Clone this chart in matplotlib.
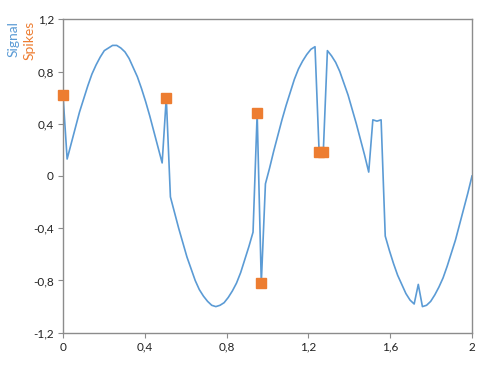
import numpy as np
import matplotlib
matplotlib.use("Agg")
import matplotlib.pyplot as plt

plt.rcParams["font.family"] = ["Lato", "DejaVu Sans"]

# signal: 100 samples evenly spaced over 0..2
x_start, x_end, n_samples = 0.0, 2.0, 100
signal = [
    0.62, 0.13, 0.25, 0.37, 0.49, 0.59, 0.69, 0.78, 0.85, 0.91,
    0.96, 0.98, 1.00, 1.00, 0.98, 0.95, 0.90, 0.83, 0.76, 0.67,
    0.57, 0.46, 0.34, 0.22, 0.10, 0.60, -0.16, -0.28, -0.40, -0.51,
    -0.62, -0.71, -0.80, -0.87, -0.92, -0.96, -0.99, -1.00, -0.99, -0.97,
    -0.93, -0.88, -0.82, -0.74, -0.64, -0.54, -0.43, 0.48, -0.82, -0.06,
    0.06, 0.19, 0.31, 0.43, 0.54, 0.64, 0.74, 0.82, 0.88, 0.93,
    0.97, 0.99, 0.18, 0.18, 0.96, 0.92, 0.87, 0.80, 0.71, 0.62,
    0.51, 0.40, 0.28, 0.16, 0.03, 0.43, 0.42, 0.43, -0.46, -0.57,
    -0.67, -0.76, -0.83, -0.90, -0.95, -0.98, -0.83, -1.00, -0.99, -0.96,
    -0.91, -0.85, -0.78, -0.69, -0.59, -0.49, -0.37, -0.25, -0.13, 0.00,
]

spike_x = [0.0, 0.505, 0.949, 0.970, 1.253, 1.273]
spike_y = [0.62, 0.60, 0.48, -0.82, 0.18, 0.18]

x_ticks = [0, 0.4, 0.8, 1.2, 1.6, 2]
x_labels = ["0", "0,4", "0,8", "1,2", "1,6", "2"]
y_ticks = [-1.2, -0.8, -0.4, 0, 0.4, 0.8, 1.2]
y_labels = ["-1,2", "-0,8", "-0,4", "0", "0,4", "0,8", "1,2"]

blue = "#5B9BD5"
orange = "#ED7D31"
grey = "#8C8C8C"

x = np.linspace(x_start, x_end, n_samples)

fig = plt.figure(figsize=(4.91, 3.78), dpi=100)
ax = fig.add_axes([0.1283, 0.1198, 0.8330, 0.8292])

ax.plot(x, signal, color=blue, lw=1.2, zorder=2)
ax.plot(spike_x, spike_y, ls="none", marker="s", ms=7, color=orange,
        mec=orange, zorder=3, clip_on=False)

ax.set_xlim(0, 2)
ax.set_ylim(-1.2, 1.2)
ax.set_xticks(x_ticks)
ax.set_xticklabels(x_labels)
ax.set_yticks(y_ticks)
ax.set_yticklabels(y_labels)

for s in ax.spines.values():
    s.set_color(grey)
    s.set_linewidth(1.0)
ax.tick_params(direction="out", length=3.5, width=0.8, color=grey,
               labelsize=8.5, labelcolor="#222222", pad=3)

# vertical legend in the top-left corner
fig.text(14 / 491, 1 - 21 / 378, "Signal", rotation=90, color=blue,
         fontsize=10, ha="center", va="top")
fig.text(30 / 491, 1 - 21 / 378, "Spikes", rotation=90, color=orange,
         fontsize=10, ha="center", va="top")

fig.savefig("out.png", dpi=100)
